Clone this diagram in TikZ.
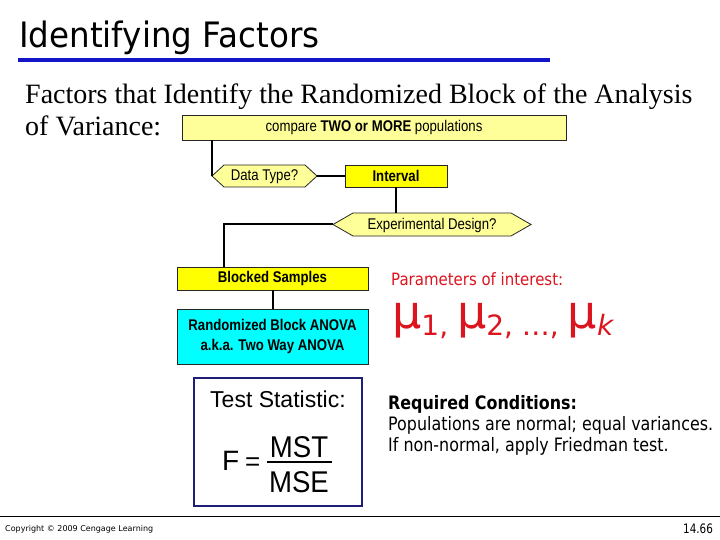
\documentclass[tikz,border=0pt]{standalone}
\usepackage{fontspec}
\setmainfont{Liberation Serif}
\newfontfamily\arialf{Liberation Sans}
\newfontfamily\tahf{DejaVu Sans}
\definecolor{lightyel}{RGB}{255,255,153}
\definecolor{brightyel}{RGB}{255,255,0}
\definecolor{cyanbox}{RGB}{0,255,255}
\definecolor{titleblue}{RGB}{20,20,200}
\definecolor{navyb}{RGB}{30,30,120}
\definecolor{redtxt}{RGB}{220,20,30}
\newcommand\boxtxt[1]{\scalebox{0.85}[1]{#1}}
\newcommand\tahtxt[1]{\scalebox{0.88}[1]{#1}}
\begin{document}
\begin{tikzpicture}[x=1pt,y=-1pt,
  fbox/.style={draw=black!85, line width=0.8pt, inner sep=0pt, font=\arialf\fontsize{15.5}{19.5}\selectfont},
  hexst/.style={fill=lightyel, draw=black!85, line width=0.8pt},
  hextxt/.style={inner sep=0pt, font=\arialf\fontsize{15.5}{19.5}\selectfont},
  conn/.style={draw=black, line width=2pt},
  txt/.style={inner sep=0pt, anchor=base west}]
\useasboundingbox (0,0) rectangle (720,540);
\fill[white] (0,0) rectangle (720,540);

% title
\node[txt] (title) at (19,48) {\scalebox{0.93}[1]{\tahf\fontsize{35}{40}\selectfont Identifying Factors}};
\draw[titleblue, line width=4pt] (18,60) -- (550,60);

% subtitle
\node[txt] (sub1) at (25,104) {\fontsize{28}{32}\selectfont Factors that Identify the Randomized Block of the Analysis};
\node[txt] (sub2) at (25,136) {\fontsize{28}{32}\selectfont of Variance:};

% flowchart
\node[fbox, fill=lightyel, minimum width=384pt, minimum height=25pt] (cmp) at (374,127.5) {\boxtxt{compare \textbf{TWO or MORE} populations}};

\coordinate (dtL) at (212,176);
\coordinate (dtR) at (317,176);
\filldraw[hexst] (dtL) -- (224,165) -- (305,165) -- (dtR) -- (305,187) -- (224,187) -- cycle;
\node[hextxt] (dt) at (264.5,176.5) {\boxtxt{Data Type?}};

\node[fbox, fill=brightyel, minimum width=102pt, minimum height=22pt] (ival) at (396,176) {\boxtxt{\textbf{Interval}}};

\coordinate (exL) at (333,224.5);
\coordinate (exR) at (531,224.5);
\coordinate (exT) at (396,213);
\filldraw[hexst] (exL) -- (353,213) -- (511,213) -- (exR) -- (511,236) -- (353,236) -- cycle;
\node[hextxt] (ex) at (432,225) {\boxtxt{Experimental Design?}};

\node[fbox, fill=brightyel, minimum width=191pt, minimum height=23pt] (blk) at (272.5,278.5) {\boxtxt{\textbf{Blocked Samples}}};
\coordinate (blkT) at (224,267);

\node[fbox, fill=cyanbox, minimum width=191pt, minimum height=55pt] (rba) at (272.5,336.5) {\boxtxt{\bfseries\begin{tabular}{@{}c@{}}Randomized Block ANOVA\\a.k.a. Two Way ANOVA\end{tabular}}};

% connectors
\draw[conn] (cmp.south -| dtL) -- (dtL);
\draw[conn] (dtR) -- (ival.west);
\draw[conn] (ival.south) -- (exT);
\draw[conn] (exL) -| (blkT);
\draw[conn] (blk.south) -- (rba.north);

% parameters
\node[txt, text=redtxt] (par) at (391,285) {\tahtxt{\tahf\fontsize{17}{20}\selectfont Parameters of interest:}};
\node[txt, text=redtxt] (mu) at (392,328) {\tahf\fontsize{46}{50}\selectfont μ\raisebox{-7pt}{\fontsize{28}{30}\selectfont 1, }μ\raisebox{-7pt}{\fontsize{28}{30}\selectfont 2, …, }μ\raisebox{-7pt}{\fontsize{28}{30}\selectfont\itshape k}};

% test statistic
\node[draw=navyb, line width=2.5pt, minimum width=168pt, minimum height=128pt, inner sep=0pt] (tsb) at (278,442) {};
\node[txt] (tst) at (210,407) {\arialf\fontsize{23}{26}\selectfont Test Statistic:};
\node[txt] (fl) at (222,470) {\arialf\fontsize{28}{30}\selectfont F};
\node[txt] (eq) at (245,470) {\arialf\fontsize{26}{30}\selectfont =};
\node[inner sep=0pt, anchor=base] (mst) at (299,457) {\scalebox{0.92}[1]{\arialf\fontsize{30}{32}\selectfont MST}};
\draw[line width=1.3pt] (267,462) -- (332,462);
\node[inner sep=0pt, anchor=base] (mse) at (299,492) {\scalebox{0.92}[1]{\arialf\fontsize{30}{32}\selectfont MSE}};

% required conditions
\node[txt] (rq1) at (388,409) {\scalebox{0.86}[1]{\tahf\bfseries\fontsize{18.5}{21}\selectfont Required Conditions:}};
\node[txt] (rq2) at (388,430) {\scalebox{0.86}[1]{\tahf\fontsize{18.5}{21}\selectfont Populations are normal; equal variances.}};
\node[txt] (rq3) at (388,451) {\scalebox{0.86}[1]{\tahf\fontsize{18.5}{21}\selectfont If non-normal, apply Friedman test.}};

% footer
\draw[line width=1pt] (0,516) -- (720,516);
\node[txt] (cr) at (5,531) {\resizebox{148pt}{!}{\tahf Copyright © 2009 Cengage Learning}};
\node[txt] (pg) at (683,533) {\scalebox{0.8}[1]{\tahf\fontsize{13}{15}\selectfont 14.66}};
\end{tikzpicture}
\end{document}
